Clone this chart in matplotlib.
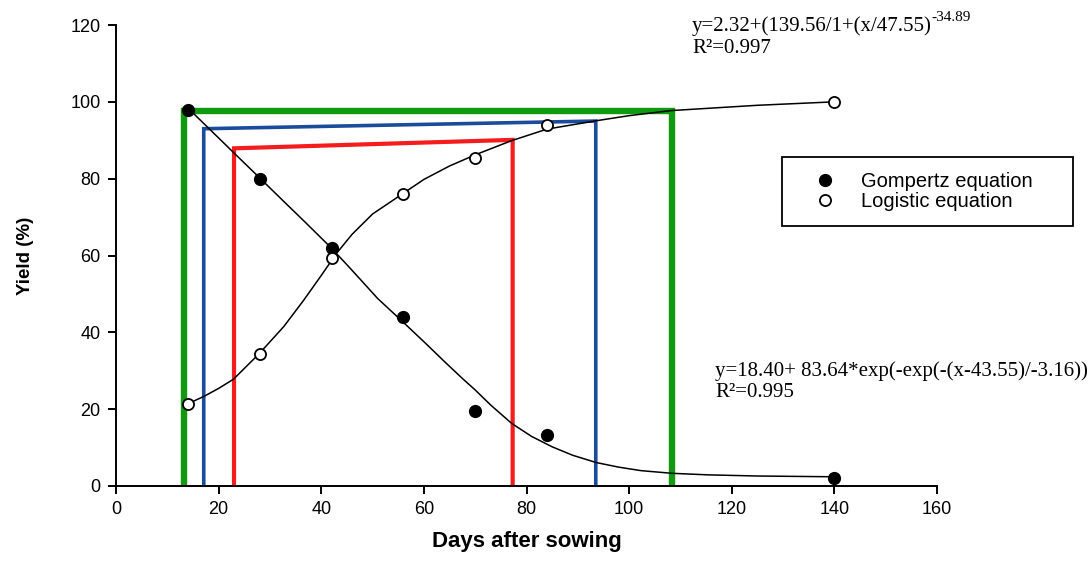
import matplotlib
matplotlib.use("Agg")
import matplotlib.pyplot as plt

# ---- data ----
days = [14, 28, 42, 56, 70, 84, 140]
gompertz_obs = [98, 80, 62, 44, 19.4, 13.3, 2.2]
logistic_obs = [21.4, 34.3, 59.3, 76, 85.3, 94, 100]

# fitted curves
gomp_fit_x = [14, 18, 22.6, 28, 32.6, 37, 41.7, 45, 47.6, 51, 56, 60.6, 64, 67.5, 70, 73, 77.1, 81, 85, 89, 93.6, 98, 102.3, 108.4, 115.4, 125, 140]
gomp_fit_y = [98.4, 93.2, 87.2, 80.2, 74.2, 68.5, 62.3, 57.6, 53.8, 48.8, 42.6, 36.8, 32.4, 28.0, 25.0, 21.1, 16.3, 12.9, 10.2, 8.0, 6.1, 4.9, 4.0, 3.3, 2.9, 2.6, 2.4]
logi_fit_x = [14, 17.1, 20, 22.9, 27.8, 32.7, 36.6, 40, 43, 46, 50, 56, 60, 65, 70, 77.1, 84, 93.7, 100, 108, 114, 125, 140]
logi_fit_y = [21.4, 23.3, 25.4, 27.8, 34.3, 41.5, 48.4, 54.8, 60.6, 65.5, 70.8, 76.2, 79.8, 83.3, 86.2, 89.9, 92.9, 95.1, 96.4, 97.7, 98.2, 99.1, 100]

# coloured frames: x positions and top heights (left, right)
green_x = [13.3, 108.4]; green_top = [97.7, 97.7]
blue_x = [17.1, 93.5];   blue_top = [93.0, 95.0]
red_x = [23.0, 77.3];    red_top = [87.9, 90.1]

x_ticks = [0, 20, 40, 60, 80, 100, 120, 140, 160]
y_ticks = [0, 20, 40, 60, 80, 100, 120]

W, H = 1091, 562
fig = plt.figure(figsize=(W / 100, H / 100), dpi=100)
ax = fig.add_axes([116 / W, 1 - 486 / H, (937 - 116) / W, (486 - 25) / H])

sans = "Liberation Sans"
serif = "Liberation Serif"

def frame(xs, tops, color, lw):
    ax.plot([xs[0], xs[0], xs[1], xs[1]], [0, tops[0], tops[1], 0],
            color=color, lw=lw, solid_joinstyle="miter", zorder=2)

frame(green_x, green_top, "#109a10", 4.6)
frame(blue_x, blue_top, "#1b4c9c", 2.6)
frame(red_x, red_top, "#f41c1c", 3.0)

ax.plot(gomp_fit_x, gomp_fit_y, color="black", lw=1.1, zorder=3)
ax.plot(logi_fit_x, logi_fit_y, color="black", lw=1.1, zorder=3)

ax.plot(days, gompertz_obs, "o", color="black", ms=8.5, zorder=4, label="Gompertz equation")
ax.plot(days, logistic_obs, "o", mfc="white", mec="black", mew=1.3, ms=8, zorder=4, label="Logistic equation")

ax.set_xlim(0, 160)
ax.set_ylim(0, 120)
ax.set_xticks(x_ticks)
ax.set_yticks(y_ticks)
for s in ["top", "right"]:
    ax.spines[s].set_visible(False)
for s in ["left", "bottom"]:
    ax.spines[s].set_linewidth(1.4)
ax.tick_params(direction="out", length=6, width=1.4, labelsize=13, pad=5)
for lab in ax.get_xticklabels() + ax.get_yticklabels():
    lab.set_fontfamily(sans)

ax.set_xlabel("Days after sowing", fontsize=16, fontweight="bold", family=sans, labelpad=9)
ax.set_ylabel("Yield (%)", fontsize=13.5, fontweight="bold", family=sans, labelpad=26)

# legend
leg = ax.legend(loc="upper left",
                bbox_to_anchor=(782 / W, 1 - 226 / H, (1073 - 782) / W, (226 - 157) / H),
                bbox_transform=fig.transFigure, mode="expand", fancybox=False, frameon=True,
                edgecolor="black", framealpha=1, borderpad=0.75, labelspacing=0.06,
                handletextpad=0.35, borderaxespad=0, handlelength=2.8,
                prop={"family": sans, "size": 14.5})
leg.get_frame().set_linewidth(1.3)

# equations
t1 = fig.text(692 / W, 1 - 31.5 / H, "y=2.32+(139.56/1+(x/47.55)", family=serif, fontsize=15,
              ha="left", va="baseline")
ax.annotate("-34.89", xy=(1.0, 0.62), xycoords=t1, ha="left", va="bottom",
            family=serif, fontsize=11)
fig.text(692 / W, 1 - 53 / H, "R²=0.997", family=serif, fontsize=15, ha="left", va="baseline")

fig.text(715 / W, 1 - 376 / H, "y=18.40+ 83.64*exp(-exp(-(x-43.55)/-3.16))", family=serif,
         fontsize=15, ha="left", va="baseline")
fig.text(715 / W, 1 - 397 / H, "R²=0.995", family=serif, fontsize=15, ha="left", va="baseline")

fig.savefig("out.png", dpi=100)
